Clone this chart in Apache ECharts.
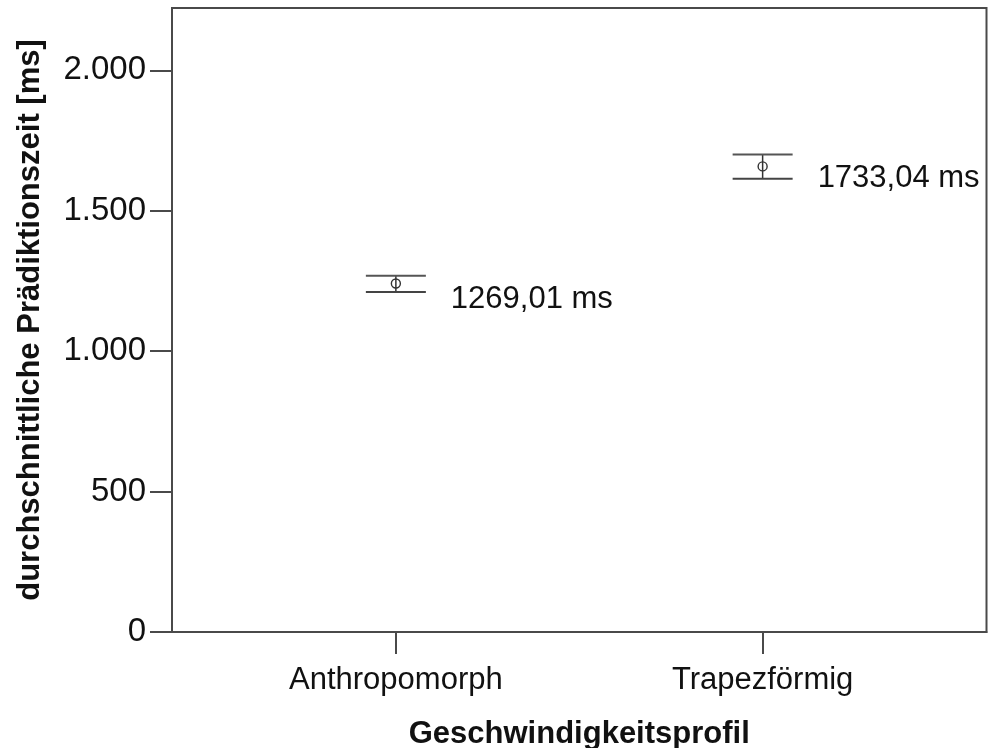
<!DOCTYPE html>
<html>
<head>
<meta charset="utf-8">
<style>
  html, body { margin: 0; padding: 0; background: #fff; }
  #chart { width: 988px; height: 748px; }
</style>
<script src="https://cdn.jsdelivr.net/npm/echarts@6/dist/echarts.min.js"></script>
</head>
<body>
<div id="chart"></div>
<script>
// Speed profiles compared
const categories = ['Anthropomorph', 'Trapezförmig'];
// mean prediction time with lower / upper error bar ends (ms)
const meanValues = [1241, 1658];
const lowerValues = [1211, 1614];
const upperValues = [1269.01, 1700];
// annotation text beside each error bar
const valueLabels = ['1269,01 ms', '1733,04 ms'];
// y axis range
const yMin = 0;
const yMax = 2222;
const yStep = 500;

const FONT = '"Liberation Sans", Arial, sans-serif';
const INK = '#111';
const FRAME = '#4a4a4a';

// category positions on a numeric x axis: 1, 2, ...
const xPos = categories.map((_, i) => i + 1);
const edgePad = 0.6104;

const seriesData = xPos.map((x, i) => [x, lowerValues[i], meanValues[i], upperValues[i]]);

const chart = echarts.init(document.getElementById('chart'), null, { renderer: 'canvas' });

chart.setOption({
  backgroundColor: '#fff',
  animation: false,
  grid: {
    left: 172, right: 1.5, top: 8, bottom: 116,
    containLabel: false,
    outerBoundsMode: 'none',
    show: true, borderColor: FRAME, borderWidth: 2, backgroundColor: 'transparent'
  },
  xAxis: {
    type: 'value',
    min: 1 - edgePad,
    max: xPos.length + edgePad,
    splitLine: { show: false },
    axisLine: { show: true, onZero: false, lineStyle: { color: FRAME, width: 2 } },
    axisTick: { show: true, length: 22, customValues: xPos, lineStyle: { color: FRAME, width: 2 } },
    axisLabel: {
      customValues: xPos,
      margin: 33,
      color: INK,
      fontFamily: FONT,
      fontSize: 31,
      formatter: v => categories[Math.round(v) - 1] || ''
    },
    name: 'Geschwindigkeitsprofil',
    nameLocation: 'middle',
    nameGap: 87,
    nameTextStyle: { color: INK, fontFamily: FONT, fontSize: 31, fontWeight: 'bold' }
  },
  yAxis: {
    type: 'value',
    min: yMin,
    max: yMax,
    interval: yStep,
    splitLine: { show: false },
    axisLine: { show: true, lineStyle: { color: FRAME, width: 2 } },
    axisTick: { show: true, length: 22, lineStyle: { color: FRAME, width: 2 } },
    axisLabel: {
      margin: 26,
      color: INK,
      fontFamily: FONT,
      fontSize: 33,
      showMaxLabel: false,
      formatter: v => v.toLocaleString('de-DE')
    },
    name: 'durchschnittliche Prädiktionszeit [ms]',
    nameLocation: 'middle',
    nameGap: 126,
    nameTextStyle: { color: INK, fontFamily: FONT, fontSize: 31, fontWeight: 'bold' }
  },
  series: [{
    type: 'custom',
    data: seriesData,
    encode: { x: 0, y: [1, 2, 3] },
    clip: false,
    renderItem: function (params, api) {
      const x = api.value(0);
      const lo = api.coord([x, api.value(1)]);
      const mid = api.coord([x, api.value(2)]);
      const hi = api.coord([x, api.value(3)]);
      const hw = 30;
      return {
        type: 'group',
        children: [
          { type: 'line', shape: { x1: lo[0], y1: lo[1], x2: hi[0], y2: hi[1] },
            style: { stroke: '#333', lineWidth: 1.5 } },
          { type: 'line', shape: { x1: hi[0] - hw, y1: hi[1], x2: hi[0] + hw, y2: hi[1] },
            style: { stroke: '#555', lineWidth: 2 } },
          { type: 'line', shape: { x1: lo[0] - hw, y1: lo[1], x2: lo[0] + hw, y2: lo[1] },
            style: { stroke: '#444', lineWidth: 2 } },
          { type: 'circle', shape: { cx: mid[0], cy: mid[1], r: 4.5 },
            style: { fill: 'none', stroke: '#333', lineWidth: 1.4 } },
          { type: 'text', x: mid[0] + 55, y: hi[1] + 24,
            style: { text: valueLabels[params.dataIndex], fill: INK,
                     font: '31px ' + FONT, verticalAlign: 'middle', align: 'left' } }
        ]
      };
    }
  }]
});
</script>
</body>
</html>
